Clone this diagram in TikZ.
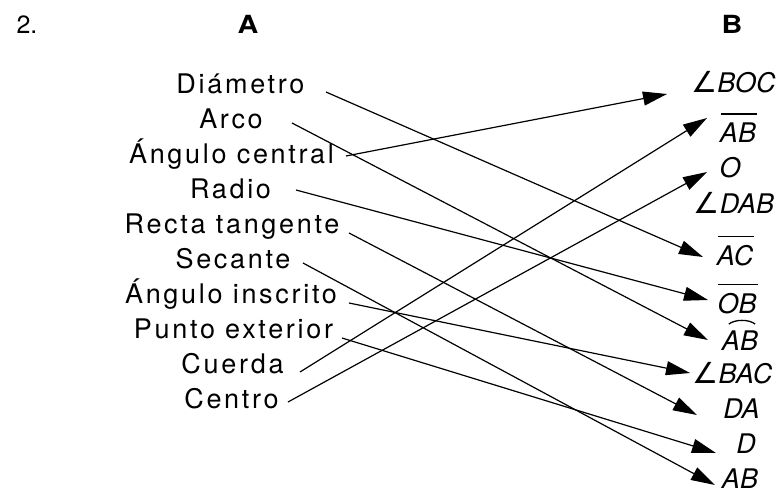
\documentclass[tikz,border=0pt]{standalone}
\usepackage{fontspec}
\setmainfont{TeX Gyre Heros}
\newfontfamily\spaced[LetterSpace=10]{TeX Gyre Heros}
\newfontfamily\hdrbold[FakeStretch=1.15]{TeX Gyre Heros}
\newfontfamily\symfont{DejaVu Sans}
\usetikzlibrary{arrows.meta}
\newcommand\angsym{{\symfont\upshape\fontsize{29}{30}\selectfont ∠}}
\begin{document}
\begin{tikzpicture}[x=1pt,y=-1pt,
  lft/.style={anchor=base,inner sep=0pt,font=\spaced\fontsize{27}{30}\selectfont},
  rgt/.style={anchor=base,inner sep=0pt,font=\fontsize{27}{30}\selectfont\itshape},
  hdr/.style={anchor=base,inner sep=0pt,font=\fontsize{25}{28}\selectfont},
  hdrb/.style={anchor=base,inner sep=0pt,font=\hdrbold\bfseries\fontsize{25}{28}\selectfont},
  conn/.style={line width=1.2pt,-{Triangle[length=24pt,width=14pt]}},
  ovl/.style={line width=1.3pt},
  ]
\useasboundingbox (0,0) rectangle (782,493);
% headers
\node[hdr] (num) at (27,33) {2.};
\node[hdrb] (hA) at (248,33) {A};
\node[hdrb] (hB) at (732,33) {B};
% column A
\node[lft] (dia) at (240.5,93) {Diámetro};
\node[lft] (arc) at (231,128) {Arco};
\node[lft] (angc) at (231.5,163) {Ángulo central};
\node[lft] (rad) at (230.5,198) {Radio};
\node[lft] (rec) at (232,233) {Recta tangente};
\node[lft] (sec) at (233,268) {Secante};
\node[lft] (angi) at (231,303) {Ángulo inscrito};
\node[lft] (pun) at (233.5,338) {Punto exterior};
\node[lft] (cue) at (232.5,373) {Cuerda};
\node[lft] (cen) at (231.5,408) {Centro};
% column B
\node[rgt] (boc) at (733.5,92) {\angsym BOC};
\node[rgt] (abo) at (738,142) {AB};
\node[rgt] (o) at (730,177) {O};
\node[rgt] (dab) at (734,213) {\angsym DAB};
\node[rgt] (ac) at (735,265) {AC};
\node[rgt] (ob) at (737,313) {OB};
\node[rgt] (abarc) at (740,350) {AB};
\node[rgt] (bac) at (732.5,383) {\angsym BAC};
\node[rgt] (da) at (741.5,418) {DA};
\node[rgt] (d) at (746,453) {D};
\node[rgt] (ab) at (740,488) {AB};
% overlines and arc
\draw[ovl] ([shift={(1pt,8pt)}]abo.north west) -- ([shift={(1pt,8pt)}]abo.north east);
\draw[ovl] ([shift={(1pt,8pt)}]ac.north west) -- ([shift={(1pt,8pt)}]ac.north east);
\draw[ovl] ([shift={(1pt,8pt)}]ob.north west) -- ([shift={(1pt,8pt)}]ob.north east);
\draw[ovl] ([shift={(7pt,6pt)}]abarc.north west) .. controls +(6pt,5pt) and +(-6pt,5pt) .. ([shift={(-3pt,6pt)}]abarc.north east);
% connector ends
\coordinate (s1) at (326,92);  \coordinate (t1) at (703,257);
\coordinate (s2) at (292,123); \coordinate (t2) at (708,340);
\coordinate (s3) at (346,156); \coordinate (t3) at (667,94);
\coordinate (s4) at (296,190); \coordinate (t4) at (708,300);
\coordinate (s5) at (349,233); \coordinate (t5) at (697,415);
\coordinate (s6) at (303,263); \coordinate (t6) at (715,485);
\coordinate (s7) at (349,303); \coordinate (t7) at (690,373);
\coordinate (s8) at (342,338); \coordinate (t8) at (716,453);
\coordinate (s9) at (300,372); \coordinate (t9) at (707,118);
\coordinate (s10) at (288,402); \coordinate (t10) at (707,172);
\draw[conn] (s1) -- (t1);
\draw[conn] (s2) -- (t2);
\draw[conn] (s3) -- (t3);
\draw[conn] (s4) -- (t4);
\draw[conn] (s5) -- (t5);
\draw[conn] (s6) -- (t6);
\draw[conn] (s7) -- (t7);
\draw[conn] (s8) -- (t8);
\draw[conn] (s9) -- (t9);
\draw[conn] (s10) -- (t10);
\end{tikzpicture}
\end{document}
